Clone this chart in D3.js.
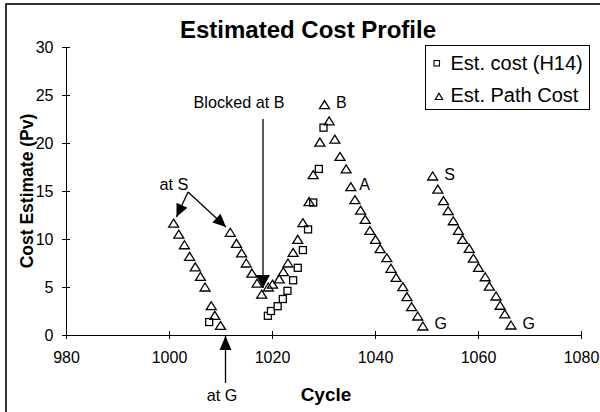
<!DOCTYPE html>
<html><head><meta charset="utf-8">
<script src="https://cdn.jsdelivr.net/npm/d3@7"></script>
<style>body{margin:0;background:#fff}svg{display:block;font-family:"Liberation Sans",Arial,sans-serif}</style>
</head><body><svg id="c" width="600" height="412"></svg>
<script>
const title = "Estimated Cost Profile";
const xTicks = [980, 1000, 1020, 1040, 1060, 1080];
const yTicks = [0, 5, 10, 15, 20, 25, 30];
const seriesNames = ["Est. cost (H14)", "Est. Path Cost"];
// Est. cost (H14) - squares
const h14Cycle = [1007.8, 1019.2, 1019.8, 1021.1, 1022.1, 1023.0, 1024.1, 1025.0, 1026.0, 1027.0, 1028.0, 1029.1, 1030.0];
const h14Value = [1.35, 2.0, 2.5, 3.0, 3.75, 4.6, 5.7, 7.0, 8.85, 11.0, 13.8, 17.3, 21.6];
// Est. Path Cost - triangles
const pathCycle = [1000.9, 1001.9, 1003.0, 1004.0, 1005.1, 1006.1, 1007.0, 1008.2, 1008.9, 1010.0,
  1011.9, 1013.1, 1014.1, 1015.0, 1016.1, 1017.1, 1018.0, 1019.3, 1020.1, 1021.4, 1022.2, 1023.1, 1024.1, 1025.0, 1026.0, 1027.2, 1028.0, 1029.3, 1030.2,
  1031.1, 1032.2, 1033.2, 1034.4, 1035.3, 1036.1, 1037.2, 1038.1, 1039.0, 1040.1, 1041.0, 1042.3, 1043.1, 1044.1, 1045.4, 1046.2, 1047.1, 1048.3, 1049.3,
  1051.2, 1052.2, 1053.3, 1054.2, 1055.2, 1056.2, 1057.0, 1058.3, 1059.1, 1060.1, 1061.4, 1062.2, 1063.5, 1064.3, 1065.2, 1066.4];
const pathValue = [11.65, 10.5, 9.4, 8.2, 7.1, 6.1, 5.0, 3.05, 2.05, 1.0,
  10.7, 9.55, 8.55, 7.5, 6.45, 5.4, 4.25, 5.0, 5.3, 5.85, 6.6, 7.5, 8.6, 9.97, 11.7, 13.9, 16.7, 20.1, 24.0,
  22.3, 20.4, 18.6, 17.3, 15.45, 14.1, 13.0, 12.05, 10.9, 9.97, 9.0, 8.05, 6.95, 6.0, 5.03, 4.0, 2.95, 1.98, 0.94,
  16.56, 15.2, 14.0, 12.95, 11.9, 10.9, 9.97, 9.03, 8.0, 7.05, 6.07, 5.1, 4.06, 3.1, 2.2, 1.04];
// point labels
const ptLabels = ["B", "A", "S", "G", "G"];
const ptLabelCycle = [1030.2, 1035.3, 1051.2, 1049.3, 1066.4];
const ptLabelValue = [24.0, 15.45, 16.56, 0.94, 1.04];

const svg = d3.select("#c");
const L = 66, R = 581, T = 47, B = 335;
const x = d3.scaleLinear().domain([980, 1080]).range([L, R]);
const y = d3.scaleLinear().domain([0, 30]).range([B, T]);

// outer border
svg.append("rect").attr("x", 6).attr("y", 4).attr("width", 620).attr("height", 430)
  .attr("fill", "none").attr("stroke", "#000").attr("stroke-width", 1.6);

svg.append("text").attr("x", 308).attr("y", 38).attr("text-anchor", "middle")
  .attr("font-size", 24).attr("font-weight", "bold").text(title);

// axes
const xAxis = d3.axisBottom(x).tickValues(xTicks).tickSize(0).tickPadding(0).tickFormat(d3.format("d"));
const gx = svg.append("g").attr("transform", `translate(0,${B})`).call(xAxis);
gx.select(".domain").attr("stroke", "#000");
gx.selectAll(".tick line").remove();
gx.selectAll(".tick").append("line").attr("y1", -4).attr("y2", 4).attr("stroke", "#000");
gx.selectAll(".tick text").attr("y", 17).attr("font-size", 16).attr("font-family", "Liberation Sans, Arial").attr("fill", "#000");

const yAxis = d3.axisLeft(y).tickValues(yTicks).tickSize(0).tickPadding(0);
const gy = svg.append("g").attr("transform", `translate(${L},0)`).call(yAxis);
gy.select(".domain").attr("stroke", "#000");
gy.selectAll(".tick line").remove();
gy.selectAll(".tick").append("line").attr("x1", -4).attr("x2", 4).attr("stroke", "#000");
gy.selectAll(".tick text").attr("x", -12.5).attr("font-size", 16).attr("font-family", "Liberation Sans, Arial").attr("fill", "#000");

svg.append("text").attr("x", 326).attr("y", 401).attr("text-anchor", "middle")
  .attr("font-size", 19).attr("font-weight", "bold").text("Cycle");
svg.append("text").attr("transform", "translate(33,191) rotate(-90)").attr("text-anchor", "middle")
  .attr("font-size", 17.5).attr("font-weight", "bold").text("Cost Estimate (Pv)");

const tri = "M0,-4 L5,4 L-5,4 Z";
const triS = "M0,-3.2 L3.6,3 L-3.6,3 Z";
// squares
svg.append("g").selectAll("rect").data(h14Cycle.map((c, i) => [c, h14Value[i]])).join("rect")
  .attr("x", d => x(d[0]) - 3.5).attr("y", d => y(d[1]) - 3.5).attr("width", 7).attr("height", 7)
  .attr("fill", "#fff").attr("stroke", "#000").attr("stroke-width", 1.3);
// triangles
svg.append("g").selectAll("path").data(pathCycle.map((c, i) => [c, pathValue[i]])).join("path")
  .attr("d", tri).attr("transform", d => `translate(${x(d[0])},${y(d[1])})`)
  .attr("fill", "none").attr("stroke", "#000").attr("stroke-width", 1.3);

// point labels
svg.append("g").selectAll("text").data(ptLabels).join("text")
  .attr("x", (d, i) => x(ptLabelCycle[i]) + (d === "A" ? 8.5 : 11.5)).attr("y", (d, i) => y(ptLabelValue[i]) + 3.5)
  .attr("font-size", 16).text(d => d);

// legend
svg.append("rect").attr("x", 425.5).attr("y", 45.5).attr("width", 164).attr("height", 64)
  .attr("fill", "#fff").attr("stroke", "#000");
svg.append("rect").attr("x", 434).attr("y", 60.5).attr("width", 5.5).attr("height", 5.5)
  .attr("fill", "#fff").attr("stroke", "#000").attr("stroke-width", 1.1);
svg.append("path").attr("d", triS).attr("transform", "translate(439,96.5)").attr("fill", "none").attr("stroke", "#000").attr("stroke-width", 1.2);
svg.append("text").attr("x", 450.5).attr("y", 70).attr("font-size", 20).text(seriesNames[0]);
svg.append("text").attr("x", 450.5).attr("y", 101.5).attr("font-size", 20).text(seriesNames[1]);

// annotations
function arrow(x1, y1, x2, y2, len, w) {
  svg.append("line").attr("x1", x1).attr("y1", y1).attr("x2", x2).attr("y2", y2).attr("stroke", "#000").attr("stroke-width", 1.3);
  const a = Math.atan2(y2 - y1, x2 - x1);
  const bx = x2 - len * Math.cos(a), by = y2 - len * Math.sin(a);
  const px = -Math.sin(a) * w, py = Math.cos(a) * w;
  svg.append("path").attr("d", `M${x2},${y2}L${bx + px},${by + py}L${bx - px},${by - py}Z`).attr("fill", "#000");
}
svg.append("text").attr("x", 174).attr("y", 190).attr("text-anchor", "middle").attr("font-size", 16.3).text("at S");
arrow(188, 192, 176.5, 217, 13, 6);
arrow(188, 192, 226, 227, 13, 6);
svg.append("text").attr("x", 239).attr("y", 108).attr("text-anchor", "middle").attr("font-size", 16.2).text("Blocked at B");
arrow(263, 119, 263, 288, 13, 7);
svg.append("text").attr("x", 222).attr("y", 401).attr("text-anchor", "middle").attr("font-size", 16.2).text("at G");
arrow(225.5, 383, 225.5, 336, 14, 6);
</script></body></html>
